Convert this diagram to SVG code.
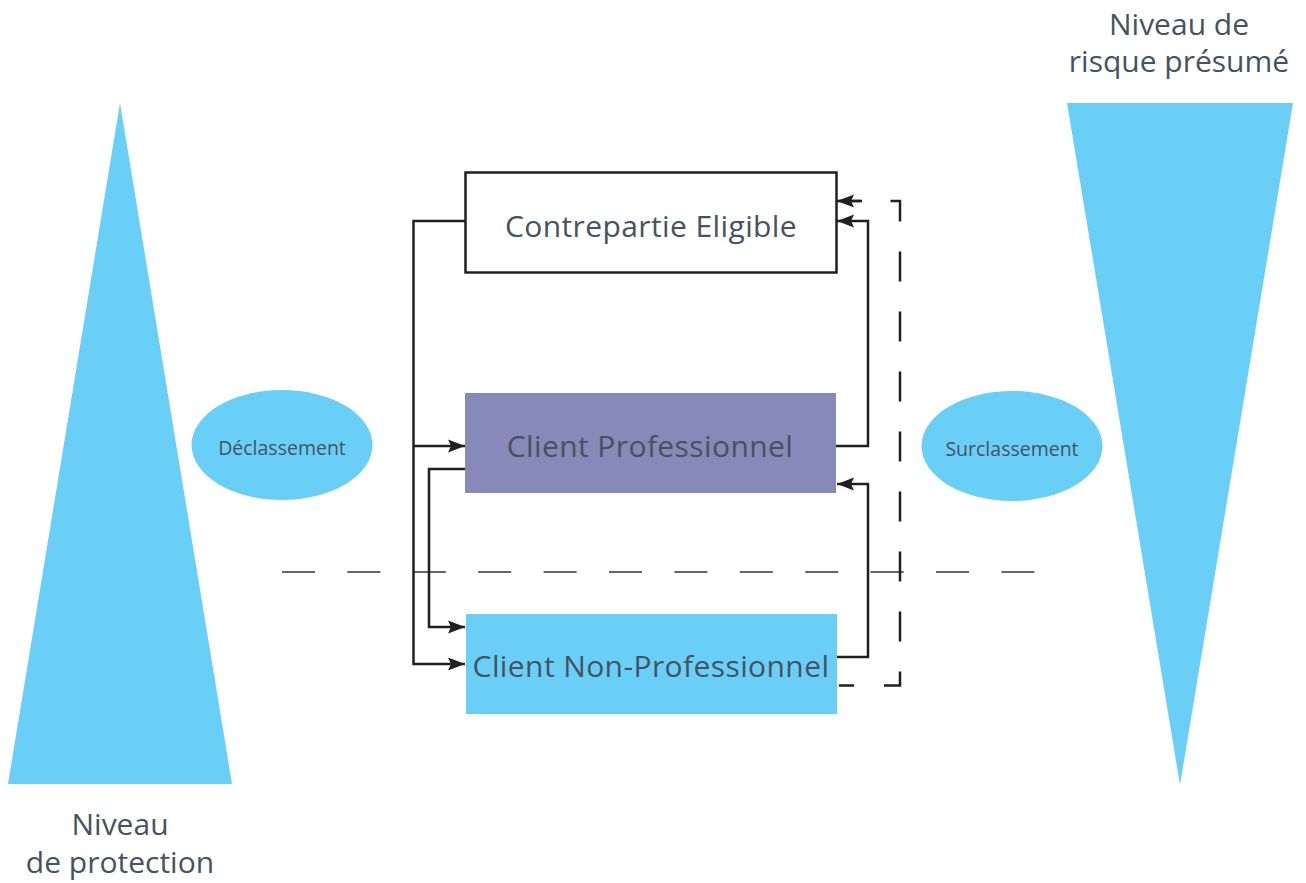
<svg xmlns="http://www.w3.org/2000/svg" width="1306" height="883" viewBox="0 0 1306 883">
<style>
.t{font-family:"Open Sans","DejaVu Sans",sans-serif;fill:#45535f;text-anchor:middle}
.big{font-size:30px}
.box{letter-spacing:0.4px}
.small{font-size:19.5px}
.ln{fill:none;stroke:#231f20;stroke-width:2.5}
.dash{fill:none;stroke:#231f20;stroke-width:2.5;stroke-dasharray:30 30;stroke-dashoffset:15}
.sep{fill:none;stroke:#333;stroke-width:1.3;stroke-dasharray:33 32.4}
.blue{fill:#6acff6}
</style>
<defs>
<marker id="arr" markerUnits="userSpaceOnUse" markerWidth="18" markerHeight="14" viewBox="0 0 18 14" refX="17" refY="7" orient="auto">
<path d="M0,0.5 L17,7 L0,13.5 L3,7 Z" fill="#231f20"/>
</marker>
</defs>
<rect width="1306" height="883" fill="#fff"/>
<g id="triangle-protection">
<polygon class="blue" points="120,103 232,784 8,784"/>
<text class="t big" x="120" y="835">Niveau</text>
<text class="t big" x="120" y="873">de protection</text>
</g>
<g id="triangle-risque">
<polygon class="blue" points="1067,103 1293,103 1180,785"/>
<text class="t big" x="1179" y="35">Niveau de</text>
<text class="t big" x="1179" y="72">risque présumé</text>
</g>
<g id="declassement">
<ellipse class="blue" cx="282" cy="445" rx="90.5" ry="55"/>
<text class="t small" x="282" y="455">Déclassement</text>
</g>
<g id="surclassement">
<ellipse class="blue" cx="1012" cy="446" rx="90.5" ry="55"/>
<text class="t small" x="1012" y="456">Surclassement</text>
</g>
<line class="sep" x1="282" y1="572" x2="1035" y2="572"/>
<g id="contrepartie-eligible">
<rect x="465.5" y="172.5" width="371" height="100" fill="#fff" stroke="#231f20" stroke-width="2.5"/>
<text class="t big box" x="651" y="237">Contrepartie Eligible</text>
</g>
<g id="client-professionnel">
<rect x="465" y="393" width="371" height="100" fill="#8789b8"/>
<text class="t big box" x="650" y="457">Client Professionnel</text>
</g>
<g id="client-non-professionnel">
<rect x="466" y="614" width="371" height="100" class="blue"/>
<text class="t big box" x="651" y="677">Client Non-Professionnel</text>
</g>
<g id="connectors">
<path class="ln" d="M465,221 H413.5 V664 H465" marker-end="url(#arr)"/>
<path class="ln" d="M413.5,446 H465" marker-end="url(#arr)"/>
<path class="ln" d="M465,469 H429 V627 H465" marker-end="url(#arr)"/>
<path class="ln" d="M836,446 H868 V221 H837" marker-end="url(#arr)"/>
<path class="ln" d="M837,657 H868 V484 H837" marker-end="url(#arr)"/>
<path class="dash" d="M839,685.5 H900 V201 H839"/>
<path class="ln" d="M862,201 H837" marker-end="url(#arr)"/>
</g>
</svg>
